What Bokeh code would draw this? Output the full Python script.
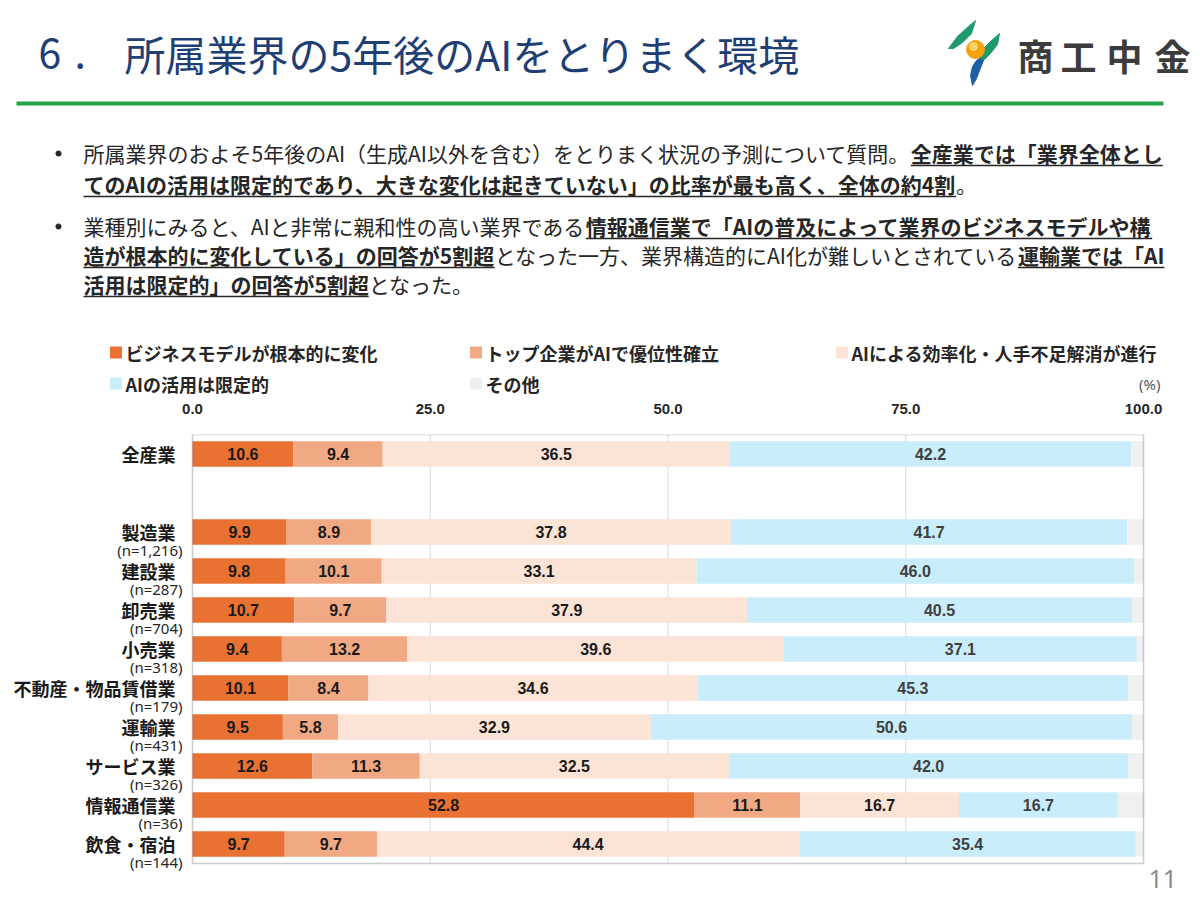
from bokeh.plotting import figure
from bokeh.models import ColumnDataSource, Range1d, FixedTicker, BoxAnnotation, PrintfTickFormatter
from bokeh.layouts import column
from bokeh.embed import file_html
from bokeh.resources import INLINE
from bokeh.core.properties import value

# ---- data -----------------------------------------------------------------
categories = ["全産業", "製造業", "建設業", "卸売業", "小売業",
              "不動産・物品賃借業", "運輸業", "サービス業", "情報通信業", "飲食・宿泊"]
sample_sizes = ["", "(n=1,216)", "(n=287)", "(n=704)", "(n=318)",
                "(n=179)", "(n=431)", "(n=326)", "(n=36)", "(n=144)"]
series_names = ["ビジネスモデルが根本的に変化", "トップ企業がAIで優位性確立",
                "AIによる効率化・人手不足解消が進行", "AIの活用は限定的", "その他"]
business_model = [10.6, 9.9, 9.8, 10.7, 9.4, 10.1, 9.5, 12.6, 52.8, 9.7]
top_firms = [9.4, 8.9, 10.1, 9.7, 13.2, 8.4, 5.8, 11.3, 11.1, 9.7]
efficiency = [36.5, 37.8, 33.1, 37.9, 39.6, 34.6, 32.9, 32.5, 16.7, 44.4]
limited = [42.2, 41.7, 46.0, 40.5, 37.1, 45.3, 50.6, 42.0, 16.7, 35.4]
other = [1.3, 1.7, 1.0, 1.2, 0.7, 1.6, 1.2, 1.6, 2.8, 0.8]
x_ticks = [0, 25, 50, 75, 100]

series_values = [business_model, top_firms, efficiency, limited, other]
colors = ["#E97132", "#F1A983", "#FBE3D6", "#CAEDFB", "#F0F0F0"]
label_colors = ["#1A1A1A", "#1A1A1A", "#1A1A1A", "#404040"]

JP = "Noto Sans CJK JP"
W, H = 1200, 898
HEAD_H = 395                  # title, commentary and legend band
PLOT_L, PLOT_R = 192, 1143    # pixel extent of the 0-100 % scale
PLOT_T, PLOT_B = 434, 863     # pixel extent of the bar rows
AXIS_BAND = PLOT_T - HEAD_H   # room for the top axis labels


def put(fig, x, y, s, size, color, bold=False, font=JP, align="left", baseline="middle"):
    fig.text(x=[x], y=[y], text=[s], text_font=value(font), text_font_size=f"{size}px",
             text_font_style="bold" if bold else "normal", text_color=color,
             text_align=align, text_baseline=baseline)


def em_width(s, bold):
    w = 0.0
    for ch in s:
        if ord(ch) > 0x2000:
            w += 1.0
        elif ch.isdigit():
            w += 0.58 if bold else 0.555
        elif ch == "A":
            w += 0.66 if bold else 0.64
        elif ch == "I":
            w += 0.31 if bold else 0.28
        else:
            w += 0.55
    return w


# ---- header: title, logo, commentary, legend --------------------------------
head = figure(width=W, height=HEAD_H, x_range=Range1d(0, W), y_range=Range1d(HEAD_H, 0),
              x_axis_location=None, y_axis_location=None, min_border=0,
              output_backend="svg", toolbar_location=None)
head.frame_align = False
head.grid.visible = False
head.outline_line_color = None
head.background_fill_color = "white"
head.border_fill_color = "white"

TITLE_C = "#1F3F74"
put(head, 38, 52, "6", 41, TITLE_C)
put(head, 74, 52, ".", 41, TITLE_C)
put(head, 124, 52, "所属業界の5年後のAIをとりまく環境", 41, TITLE_C)

# logo mark and name
head.patch(x=[948, 957, 968, 975, 971, 962, 953], y=[48, 36, 26, 20, 33, 42, 48], color="#1E9A6C")
head.patch(x=[999, 997, 990, 983, 979, 981, 990], y=[33, 44, 53, 60, 58, 50, 41], color="#1E9A6C")
head.patch(x=[983, 979, 976, 972, 970, 972, 976, 979], y=[60, 70, 78, 85, 75, 66, 60, 58], color="#1D5EA6")
head.circle(x=[975], y=[49], radius=9, color="#F4A30F")
head.circle(x=[973], y=[46], radius=4, color="#FCD36A")
for cx, ch in zip([1035, 1078, 1124, 1172], "商工中金"):
    put(head, cx, 54, ch, 36, "#3C3C3C", bold=True, align="center")

# green rule
head.segment(x0=[16], y0=[103], x1=[1163], y1=[103], line_width=4, color="#22A447")

# commentary bullets (bold runs are underlined)
TXT = 21
lines = [
    (152, [("所属業界のおよそ5年後のAI（生成AI以外を含む）をとりまく状況の予測について質問。", False),
           ("全産業では「業界全体とし", True)]),
    (183, [("てのAIの活用は限定的であり、大きな変化は起きていない」の比率が最も高く、全体の約4割", True),
           ("。", False)]),
    (225, [("業種別にみると、AIと非常に親和性の高い業界である", False),
           ("情報通信業で「AIの普及によって業界のビジネスモデルや構", True)]),
    (254, [("造が根本的に変化している」の回答が5割超", True),
           ("となった一方、業界構造的にAI化が難しいとされている", False),
           ("運輸業では「AI", True)]),
    (283, [("活用は限定的」の回答が5割超", True), ("となった。", False)]),
]
for by in (153, 226):
    head.circle(x=[58], y=[by], radius=2.6, color="#262626")
for y, runs in lines:
    x = 83
    for s, bold in runs:
        put(head, x, y, s, TXT, "#262626", bold=bold)
        w = em_width(s, bold) * TXT
        if bold:
            head.segment(x0=[x], y0=[y + 13], x1=[x + w], y1=[y + 13], line_width=1.6, color="#262626")
        x += w

# legend
legend_pos = [(110, 352), (470, 352), (836, 352), (110, 383), (470, 383)]
for (lx, ly), name, c in zip(legend_pos, series_names, colors):
    head.rect(x=[lx + 5.5], y=[ly], width=11, height=11, color=c)
    put(head, lx + 15, ly, name, 18, "#262626", bold=True)
put(head, 1160, 383, "(%)", 15, "#595959", font="Noto Sans", align="right")

# ---- chart ----------------------------------------------------------------
# row slots: 全産業 on top, one empty slot, then the industries
slots = [0] + list(range(2, len(categories) + 1))
n_slots = len(categories) + 1
row_top, row_bottom = -0.5, n_slots - 0.5

# frame covers the whole band (labels column, page-number corner), so the
# ranges extend past the 0-100 % box on every side but the top
px_per_x = (PLOT_R - PLOT_L) / 100
px_per_row = (PLOT_B - PLOT_T) / n_slots
x_range = Range1d(-PLOT_L / px_per_x, 100 + (W - PLOT_R) / px_per_x)
y_range = Range1d(row_bottom + (H - PLOT_B) / px_per_row, row_top)

chart = figure(width=W, height=H - HEAD_H, x_range=x_range, y_range=y_range,
               x_axis_location="above", y_axis_location=None,
               min_border_left=0, min_border_right=0,
               min_border_top=AXIS_BAND, min_border_bottom=0,
               output_backend="svg", toolbar_location=None)
chart.frame_align = False
chart.background_fill_color = "white"
chart.border_fill_color = "white"
chart.outline_line_color = None
chart.grid.visible = False

# vertical guides at 25 / 50 / 75
inner = x_ticks[1:-1]
chart.segment(x0=inner, y0=[row_top] * len(inner), x1=inner, y1=[row_bottom] * len(inner),
              line_color="#D9D9D9", line_width=1, level="underlay")

keys = ["s0", "s1", "s2", "s3", "s4"]
data = {"slot": slots}
for k, vals in zip(keys, series_values):
    data[k] = vals
src = ColumnDataSource(data)
chart.hbar_stack(keys, y="slot", height=0.65, color=colors, line_color=None, source=src)

# plot box around the 0-100 % area
chart.add_layout(BoxAnnotation(left=x_ticks[0], right=x_ticks[-1], top=row_top, bottom=row_bottom,
                               fill_alpha=0, line_color="#595959", line_width=1.5))

# value labels centred in each segment
lx, ly, lt, lc = [], [], [], []
for i, s in enumerate(slots):
    left = 0.0
    for j in range(4):
        v = series_values[j][i]
        lx.append(left + v / 2)
        ly.append(s)
        lt.append(f"{v:.1f}")
        lc.append(label_colors[j])
        left += v
chart.text(x=lx, y=ly, text=lt, text_color=lc, text_font=value("Liberation Sans"),
           text_font_size="16px", text_font_style="bold", text_align="center", text_baseline="middle")

# industry names and sample sizes left of the box
chart.text(x=[0] * len(categories), y=slots, text=categories, x_offset=-17,
           text_font=value(JP), text_font_size="18px", text_font_style="bold",
           text_color="#1A1A1A", text_align="right", text_baseline="middle")
chart.text(x=[0] * (len(categories) - 1), y=slots[1:], text=sample_sizes[1:],
           x_offset=-10, y_offset=18,
           text_font=value("Noto Sans"), text_font_size="15px",
           text_color="#262626", text_align="right", text_baseline="middle")

# page number below the box's right corner
chart.text(x=[100], y=[row_bottom], text=["11"], x_offset=5, y_offset=15,
           text_font=value("Noto Sans"), text_font_size="25px",
           text_color="#8C8C8C", text_align="left", text_baseline="middle")

# top axis
xa = chart.xaxis[0]
xa.ticker = FixedTicker(ticks=x_ticks)
xa.formatter = PrintfTickFormatter(format="%.1f")
xa.axis_line_color = None
xa.major_tick_line_color = None
xa.minor_tick_line_color = None
xa.major_label_standoff = 15
xa.major_label_text_font = "Liberation Sans"
xa.major_label_text_font_size = "15px"
xa.major_label_text_font_style = "bold"
xa.major_label_text_color = "#262626"

page = column(head, chart, spacing=0)
open("out.html", "w").write(file_html(page, INLINE))
